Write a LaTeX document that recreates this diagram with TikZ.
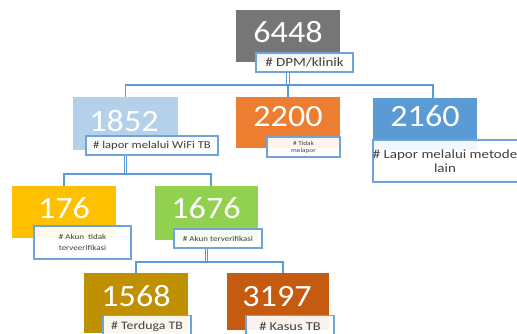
\documentclass[tikz,border=0pt]{standalone}
\usepackage{fontspec}
\setmainfont{Carlito}
\definecolor{lineblue}{HTML}{5B9BD5}
\definecolor{lblue}{HTML}{6FA3DA}
\definecolor{cgray}{HTML}{767676}
\definecolor{clight}{HTML}{B4D1EC}
\definecolor{corange}{HTML}{ED7D31}
\definecolor{cblue}{HTML}{5B9BD5}
\definecolor{cyellow}{HTML}{FFC000}
\definecolor{cgreen}{HTML}{92D050}
\definecolor{cgold}{HTML}{BF9000}
\definecolor{crust}{HTML}{C55A11}
\definecolor{ltext}{HTML}{404040}
\newcommand\wide[1]{\scalebox{1.2}[1]{#1}}
\newcommand\numw[1]{\scalebox{1.1}[1]{#1}}
\begin{document}
\begin{tikzpicture}[x=1pt,y=-1pt,
  box/.style={rectangle, draw=none, inner sep=0pt},
  num/.style={text=white, inner sep=0pt, font=\fontsize{31}{31}\selectfont},
  lbl/.style={rectangle, draw=lblue, line width=1.5pt, fill=white, fill opacity=0.92, text opacity=1, text=ltext, inner sep=0pt, align=center},
  conn/.style={draw=lineblue, line width=1.5pt},
  stem/.style={draw=lineblue, line width=1pt, double=white, double distance=1.2pt}]
\useasboundingbox (0,0) rectangle (517,333);
% boxes
\node[box, fill=cgray, minimum width=104pt, minimum height=52pt] (b6448) at (288,36) {};
\node[box, fill=clight, minimum width=105pt, minimum height=53pt] (b1852) at (125.5,123.5) {};
\node[box, fill=corange, minimum width=104pt, minimum height=51pt] (b2200) at (288,122.5) {};
\node[box, fill=cblue, minimum width=104pt, minimum height=52pt] (b2160) at (425,124) {};
\node[box, fill=cyellow, minimum width=104pt, minimum height=52pt] (b176) at (64,212) {};
\node[box, fill=cgreen, minimum width=103pt, minimum height=54pt] (b1676) at (206.5,213) {};
\node[box, fill=cgold, minimum width=104pt, minimum height=60pt] (b1568) at (136,303) {};
\node[box, fill=crust, minimum width=102pt, minimum height=57pt] (b3197) at (278,301.5) {};
% numbers
\node[num] (n6448) at (288,32) {\numw{6448}};
\node[num] (n1852) at (124,121) {\numw{1852}};
\node[num] (n2200) at (288,116.5) {\numw{2200}};
\node[num] (n2160) at (425,116.5) {\numw{2160}};
\node[num] (n176) at (64,208.5) {\numw{176}};
\node[num] (n1676) at (206,208.5) {\numw{1676}};
\node[num] (n1568) at (136,296.5) {\numw{1568}};
\node[num] (n3197) at (277,296.5) {\numw{3197}};
% labels
\node[lbl, minimum width=97pt, minimum height=19pt, font=\fontsize{12.5}{13}\selectfont] (l6448) at (304.5,62.5) {\wide{\# DPM/klinik}};
\node[lbl, minimum width=132pt, minimum height=19pt, font=\fontsize{10.5}{11}\selectfont] (l1852) at (152,145.5) {\wide{\# lapor melalui WiFi TB}};
\node[lbl, minimum width=73pt, minimum height=20pt, font=\fontsize{6}{7}\selectfont] (l2200) at (303.5,147) {\wide{\# Tidak}\\\wide{melapor}};
\node[lbl, minimum width=143pt, minimum height=42pt, font=\fontsize{12.5}{14}\selectfont] (l2160) at (445,161) {\wide{\# Lapor melalui metode}\\\wide{lain}};
\node[lbl, minimum width=97pt, minimum height=33pt, font=\fontsize{7.5}{11}\selectfont] (l176) at (82.5,242.5) {\wide{\# Akun\ \ tidak}\\\wide{terveerifikasi}};
\node[lbl, minimum width=88pt, minimum height=19pt, font=\fontsize{7.5}{9}\selectfont] (l1676) at (218,238.5) {\wide{\# Akun terverifikasi}};
\node[lbl, minimum width=88pt, minimum height=22pt, font=\fontsize{11.5}{12}\selectfont] (l1568) at (147,326.5) {\wide{\# Terduga TB}};
\node[lbl, minimum width=88pt, minimum height=22pt, font=\fontsize{12}{12}\selectfont] (l3197) at (290,326.5) {\wide{\# Kasus TB}};
% connector helpers
\coordinate (r1) at (0,85);
\coordinate (r2) at (0,174);
\coordinate (r3) at (0,262);
\coordinate (t2160) at ([xshift=8pt]b2160.north);
\coordinate (t1676) at ([xshift=4.5pt]b1676.north);
\coordinate (t3197) at ([xshift=5pt]b3197.north);
% connectors
\draw[stem] (b6448 |- l6448.south) -- (b6448 |- r1);
\draw[conn] (b1852.north) |- (t2160 |- r1) -- (t2160);
\draw[conn] (b2200 |- r1) -- (b2200.north);
\draw[stem] (b1852 |- l1852.south) -- (b1852 |- r2);
\draw[conn] (b176.north) |- (t1676 |- r2) -- (t1676);
\draw[stem] (b1676 |- l1676.south) -- (b1676 |- r3);
\draw[conn] (b1568.north) |- (t3197 |- r3) -- (t3197);
\end{tikzpicture}
\end{document}
